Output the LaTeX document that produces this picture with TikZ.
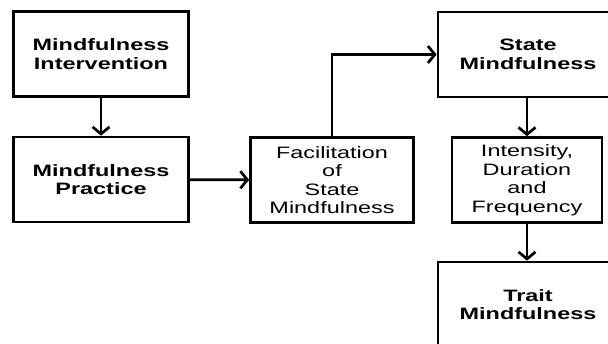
\documentclass[tikz,border=0pt]{standalone}
\usepackage{fontspec}
\setmainfont{Liberation Sans}[FakeStretch=1.42]
\usetikzlibrary{arrows.meta}
\begin{document}
\begin{tikzpicture}[x=1pt,y=-1pt,
  box/.style={draw, line width=2.7pt, inner sep=0pt, align=center,
    font=\fontsize{16.5}{18.5}\selectfont},
  bbox/.style={box, font=\fontsize{16.5}{18.5}\selectfont\bfseries},
  conn/.style={line width=2.7pt, -{Straight Barb[length=7pt,width=17pt,line width=2.7pt]}}]
\useasboundingbox (0,0) rectangle (608,343);
\clip (0,0) rectangle (608,343);
\fill[white] (0,0) rectangle (608,343);
\node[bbox, minimum width=175pt, minimum height=85pt] (b1) at (101,54) {Mindfulness\\Intervention};
\node[bbox, minimum width=175pt, minimum height=85pt] (b2) at (101,179.5) {Mindfulness\\Practice};
\node[box, minimum width=163pt, minimum height=85pt] (b3) at (332,180) {Facilitation\\of\\State\\Mindfulness};
\node[bbox, minimum width=180pt, minimum height=85pt] (b4) at (528,54.5) {State\\Mindfulness};
\node[box, minimum width=150pt, minimum height=85pt] (b5) at (527,180) {Intensity,\\Duration\\and\\Frequency};
\node[bbox, minimum width=180pt, minimum height=85pt] (b6) at (528,304.5) {Trait\\Mindfulness};
\draw[conn] (b1) -- (b2);
\draw[conn] (b2) -- (b3);
\draw[conn] (b3.north) |- (b4.west);
\draw[conn] (b4.south -| b5.north) -- (b5.north);
\draw[conn] (b5.south) -- (b5.south |- b6.north);
\end{tikzpicture}
\end{document}
